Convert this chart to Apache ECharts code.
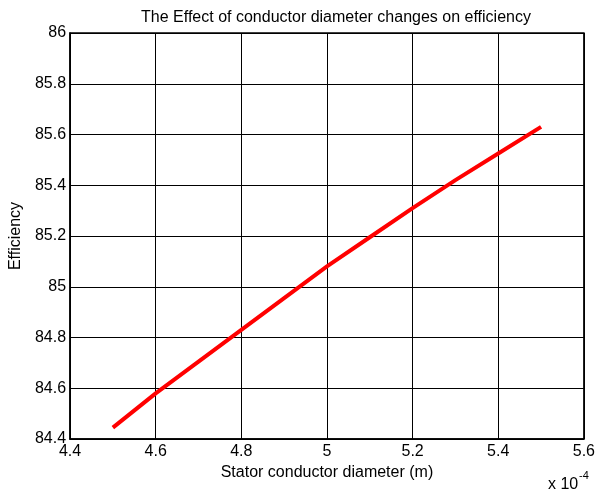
<!DOCTYPE html>
<html>
<head>
<meta charset="utf-8">
<script src="https://cdn.jsdelivr.net/npm/echarts@6/dist/echarts.min.js"></script>
<style>
  html, body { margin: 0; padding: 0; background: #fff; }
  #chart { width: 598px; height: 492px; }
</style>
</head>
<body>
<div id="chart"></div>
<script>
// diameter in units of 1e-4 m
var diameters = [4.5, 4.6, 4.7, 4.8, 4.9, 5.0, 5.1, 5.2, 5.3, 5.4, 5.5];
var efficiency = [84.445, 84.58, 84.705, 84.83, 84.955, 85.08, 85.195, 85.31, 85.42, 85.525, 85.63];
var xTicks = [4.4, 4.6, 4.8, 5, 5.2, 5.4, 5.6];
var yTicks = [84.4, 84.6, 84.8, 85, 85.2, 85.4, 85.6, 85.8, 86];

var font = "'Liberation Sans', Arial, sans-serif";

var chart = echarts.init(document.getElementById("chart"));

function fmt(v) {
  return String(Math.round(v * 10) / 10);
}

var option = {
  animation: false,
  textStyle: { fontFamily: font },
  title: {
    text: "The Effect of conductor diameter changes on efficiency",
    left: 331,
    textAlign: "center",
    top: 5,
    textStyle: { fontSize: 16, fontWeight: "normal", color: "#000", fontFamily: font }
  },
  grid: {
    left: 70,
    right: 12,
    top: 33,
    bottom: 53,
    show: true,
    borderColor: "#000",
    borderWidth: 1.5
  },
  xAxis: {
    type: "value",
    min: xTicks[0],
    max: xTicks[xTicks.length - 1],
    interval: 0.2,
    name: "Stator conductor diameter (m)",
    nameLocation: "middle",
    nameGap: 21,
    nameTextStyle: { fontSize: 16, color: "#000" },
    axisLine: { onZero: false, lineStyle: { color: "#000", width: 1.5 } },
    axisTick: { show: false },
    axisLabel: { fontSize: 16, color: "#000", margin: 5, formatter: fmt },
    splitLine: { show: true, lineStyle: { color: "#000", width: 1 } }
  },
  yAxis: {
    type: "value",
    min: yTicks[0],
    max: yTicks[yTicks.length - 1],
    interval: 0.2,
    name: "Efficiency",
    nameLocation: "middle",
    nameGap: 46,
    nameTextStyle: { fontSize: 16, color: "#000" },
    axisLine: { onZero: false, lineStyle: { color: "#000", width: 1.5 } },
    axisTick: { show: false },
    axisLabel: { fontSize: 16, color: "#000", margin: 4, formatter: fmt },
    splitLine: { show: true, lineStyle: { color: "#000", width: 1 } }
  },
  graphic: [
    {
      type: "text",
      left: 548,
      top: 477,
      style: { text: "x 10", fontSize: 16, fill: "#000", fontFamily: font }
    },
    {
      type: "text",
      left: 579,
      top: 470,
      style: { text: "-4", fontSize: 11, fill: "#000", fontFamily: font }
    }
  ],
  series: [
    {
      type: "line",
      data: diameters.map(function (d, i) { return [d, efficiency[i]]; }),
      showSymbol: false,
      lineStyle: { color: "#ff0000", width: 4 },
      itemStyle: { color: "#ff0000" }
    }
  ]
};

chart.setOption(option);
</script>
</body>
</html>
